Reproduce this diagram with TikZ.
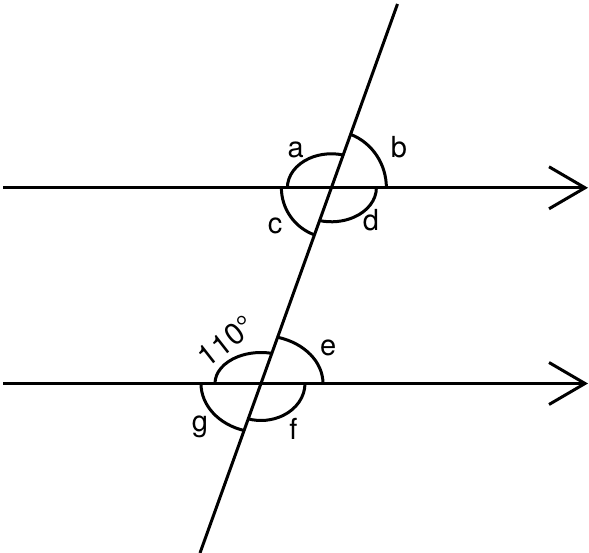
\documentclass[tikz,border=0pt]{standalone}
\usepackage{fontspec}
\setmainfont{TeX Gyre Heros}
\usetikzlibrary{arrows.meta}

\begin{document}
\begin{tikzpicture}[x=1pt,y=1pt,line width=3pt]
\useasboundingbox (0,0) rectangle (589,553);

\coordinate (H1g) at (3,365.2);
\coordinate (H1d) at (588,365.2);
\coordinate (H2g) at (3,169.5);
\coordinate (H2d) at (588,169.5);
\coordinate (Sb) at (200,0);
\coordinate (Sh) at (397.5,549);
\coordinate (P) at (intersection of H1g--H1d and Sb--Sh);
\coordinate (Q) at (intersection of H2g--H2d and Sb--Sh);

\draw[-{Straight Barb[length=36pt,width=42pt]}] (H1g) -- (H1d);%les paralleles
\draw[-{Straight Barb[length=36pt,width=42pt]}] (H2g) -- (H2d);
\draw (Sb) -- (Sh);%la secante

%les angles en haut
\draw ([xshift=-44pt]P) arc[start angle=180,end angle=74.1,x radius=44pt,y radius=34pt];
\draw ([xshift=55pt]P) arc[start angle=0,end angle=69.2,x radius=55pt,y radius=57pt];
\draw ([xshift=-50pt]P) arc[start angle=180,end angle=250.2,radius=50pt];
\draw ([xshift=45pt]P) arc[start angle=0,end angle=-105.2,x radius=45pt,y radius=34pt];

%les angles en bas
\draw ([xshift=-46pt]Q) arc[start angle=180,end angle=76.6,x radius=46pt,y radius=31pt];
\draw ([xshift=62pt]Q) arc[start angle=0,end angle=74.2,x radius=62pt,y radius=48pt];
\draw ([xshift=-60pt]Q) arc[start angle=180,end angle=253.9,x radius=60pt,y radius=49pt];
\draw ([xshift=44pt]Q) arc[start angle=0,end angle=-107.2,x radius=44pt,y radius=37pt];

\node[scale=2.9] (la) at (295.7,403) {a};
\node[scale=2.9] (lb) at (399,406.3) {b};
\node[scale=2.9] (lc) at (275,327) {c};
\node[scale=2.9] (ld) at (371,333) {d};
\node[scale=2.9] (le) at (328.3,204.7) {e};
\node[scale=2.9] (lf) at (293.3,124.5) {f};
\node[scale=2.9] (lg) at (200,126.3) {g};
\node[scale=3,rotate=38,inner sep=0pt] (lang) at (226,212) {110°};

\end{tikzpicture}
\end{document}
